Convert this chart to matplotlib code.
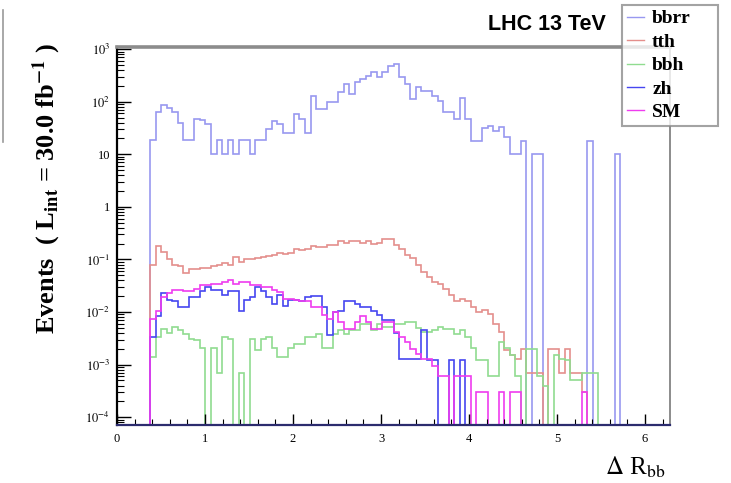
import numpy as np
import matplotlib
matplotlib.use("Agg")
import matplotlib.pyplot as plt
from matplotlib.lines import Line2D
from matplotlib.ticker import (FixedLocator, FuncFormatter, LogLocator,
                               MultipleLocator, NullFormatter)

plt.rcParams["mathtext.fontset"] = "stix"
plt.rcParams["font.family"] = ["Liberation Serif", "DejaVu Serif"]

# Histogram binning: 100 bins of Delta R_bb over [0, 2*pi]; the lists below
# hold the bin contents starting at FIRST_BIN (all earlier bins are empty).
N_BINS = 100
X_MAX = 2 * np.pi
FIRST_BIN = 6

bbrr = [19, 63, 85, 75, 63, 40, 19, 19, 47, 45, 38,
        10, 19, 10, 19, 10, 19, 19, 10, 19, 19,
        30, 43, 37, 26, 26, 58, 47, 26,
        130, 72, 72, 100, 97, 150, 218, 140, 234, 270, 315, 365, 290, 365, 470, 525,
        290, 218, 112, 190, 160, 160, 130, 104, 63, 63, 47, 120, 47,
        18, 18, 32, 35, 28, 33, 21, 10, 10, 18, 0, 10, 10,
        0, 0, 0, 0, 0, 0, 0, 0, 18, 0, 0, 0, 0, 10]

tth = [0.08, 0.18, 0.14, 0.10, 0.08, 0.075, 0.055, 0.065, 0.067, 0.068,
       0.07, 0.075, 0.079, 0.085, 0.08,
       0.11, 0.09, 0.10, 0.10, 0.105, 0.11, 0.115, 0.12, 0.13, 0.125,
       0.13, 0.16, 0.15, 0.16, 0.18,
       0.175, 0.17, 0.19, 0.19, 0.22, 0.21, 0.22, 0.22, 0.21, 0.22,
       0.20, 0.21, 0.25, 0.25,
       0.19, 0.155, 0.122, 0.105, 0.079, 0.058, 0.047, 0.037, 0.034, 0.027,
       0.021, 0.016, 0.018, 0.016, 0.0126, 0.010, 0.011, 0.009, 0.006,
       0.0042, 0.0019, 0.0015, 0.0013, 0.002, 0.0007, 0.0007, 0.0007, 0,
       0.002, 0.002, 0.0007, 0.002, 0.0007, 0.0007, 0.0003, 0]

bbh = [0.0014, 0.0034, 0.0047, 0.004, 0.0052, 0.0045, 0.0038, 0.0031, 0.003, 0.0021,
       0, 0.0021, 0.0007, 0.0034, 0.0031, 0, 0.0007, 0, 0.0031, 0.0019,
       0.0031, 0.0034, 0.0021, 0.0014, 0.0014, 0.0021, 0.0025, 0.0025, 0.0034, 0.0034,
       0.0038, 0.0021, 0.0021, 0.0038, 0.0045, 0.0038, 0.0045, 0.0045, 0.006, 0.006,
       0.0045, 0.006, 0.0052, 0.0052, 0.006, 0.006, 0.0066, 0.0066, 0.005, 0.0042,
       0.0042, 0.0045, 0.0052, 0.0047, 0.0047, 0.0038, 0.0045, 0.0034, 0.0021, 0.0012,
       0.0012, 0.0006, 0.0006, 0.0027, 0.0021, 0.0015, 0.0006, 0, 0.002, 0.002,
       0.0006, 0.0004, 0, 0.0015, 0.0013, 0.0012, 0.0005, 0.0005, 0.0007, 0.0007, 0.0007]

zh = [0.0034, 0.0085, 0.0226, 0.0169, 0.016, 0.0126, 0.0126, 0.019, 0.019, 0.025,
      0.0305, 0.0265, 0.0265, 0.0209, 0.025, 0.025, 0.0106, 0.0169, 0.0195, 0.0305,
      0.025, 0.019, 0.0142, 0.021, 0.0133, 0.0169, 0.0169, 0.016, 0.019, 0.02,
      0.02, 0.0125, 0.0036, 0.01, 0.0106, 0.016, 0.016, 0.0142, 0.0125, 0.0125,
      0.0106, 0.0086, 0.007, 0.007, 0.004, 0.0013, 0.0013, 0.0013, 0.0013, 0.0045,
      0.0012, 0.0012, 0, 0, 0.0012, 0, 0.0012]

sm = [0.0074, 0.0106, 0.0195, 0.023, 0.026, 0.026, 0.025, 0.025, 0.028, 0.0324,
      0.0324, 0.0347, 0.0347, 0.0373, 0.040, 0.0347, 0.037, 0.037, 0.0324, 0.0324,
      0.030, 0.030, 0.026, 0.024, 0.0178, 0.0178, 0.0169, 0.016, 0.016, 0.0126,
      0.0126, 0.0086, 0.0074, 0.010, 0.0066, 0.0047, 0.0047, 0.0066, 0.0084, 0.0066,
      0.0047, 0.0047, 0.0066, 0.0066, 0.0042, 0.0034, 0.0027, 0.002, 0.0016, 0.0013,
      0.0013, 0.00094, 0.0006, 0.0006, 0, 0.0006, 0.0006, 0.0006, 0, 0.0003,
      0.0003, 0, 0, 0.0003, 0, 0.0003, 0.0003, 0, 0, 0,
      0, 0, 0, 0, 0, 0, 0, 0, 0.0003]

labels = ["bbrr", "tth", "bbh", "zh", "SM"]
colors = ["#9898f0", "#e48f8c", "#90dc90", "#4646f0", "#ef3cef"]
series = [bbrr, tth, bbh, zh, sm]

Y_MIN, Y_MAX = 7.1e-5, 1.1e3
edges = np.linspace(0.0, X_MAX, N_BINS + 1)


def contents(vals):
    h = np.zeros(N_BINS)
    h[FIRST_BIN:FIRST_BIN + len(vals)] = vals
    # empty bins sit on the lower edge of the log axis
    return np.where(h > 0, h, Y_MIN)


fig = plt.figure(figsize=(7.31, 4.83), dpi=100)
ax = fig.add_axes([117 / 731, 1 - 425 / 483, (670 - 117) / 731, (425 - 47) / 483])
ax.set_yscale("log")

handles = []
for name, vals, col in zip(labels, series, colors):
    ax.stairs(contents(vals), edges, baseline=Y_MIN, color=col, lw=1.2)
    handles.append(Line2D([], [], color=col, lw=1.0))

ax.set_xlim(0, X_MAX)
ax.set_ylim(Y_MIN, Y_MAX)

# frame
ax.spines["left"].set_color("black")
ax.spines["left"].set_linewidth(1.6)
ax.spines["bottom"].set_color("#2c2c6e")
ax.spines["bottom"].set_linewidth(1.6)
ax.spines["top"].set_color("#8c8c8c")
ax.spines["top"].set_linewidth(2.6)
ax.spines["right"].set_color("#8c8c8c")
ax.spines["right"].set_linewidth(1.4)

# y axis: decades with ROOT-like labels
decades = [1e-4, 1e-3, 1e-2, 1e-1, 1, 10, 1e2, 1e3]


def ylab(v, pos):
    e = int(round(np.log10(v)))
    if e == 0:
        return "1"
    if e == 1:
        return "10"
    return r"$10^{%d}$" % e


ax.yaxis.set_major_locator(FixedLocator(decades))
ax.yaxis.set_major_formatter(FuncFormatter(ylab))
ax.yaxis.set_minor_locator(LogLocator(base=10, subs=np.arange(2, 10)))
ax.yaxis.set_minor_formatter(NullFormatter())
ax.tick_params(axis="y", which="major", direction="in", length=10, width=1.0,
               labelsize=9, pad=5)
ax.tick_params(axis="y", which="minor", direction="in", length=5, width=0.8)

ax.xaxis.set_major_locator(MultipleLocator(1))
ax.xaxis.set_minor_locator(MultipleLocator(0.2))
ax.tick_params(axis="x", which="major", direction="in", length=8, width=1.0,
               labelsize=9, pad=6)
ax.tick_params(axis="x", which="minor", direction="in", length=4, width=0.8)

# axis titles
fig.text(47 / 731, 1 - 189 / 483,
         r"Events  ( L$_{\mathbf{int}}$ = 30.0 fb$^{\mathbf{-1}}$ )",
         rotation=90, ha="center", va="center", fontsize=19, fontweight="bold")
fig.text(665 / 731, 1 - 467 / 483, r"$\Delta$ R$_{\mathrm{bb}}$",
         ha="right", va="center", fontsize=18)

fig.text(606 / 731, 1 - 24 / 483, "LHC 13 TeV", ha="right", va="center",
         fontsize=15.5, fontweight="bold", family="Liberation Sans")

leg = fig.legend(handles, labels, loc="upper left",
                 bbox_to_anchor=(622 / 731, 1 - 138 / 483, 96 / 731, 133 / 483),
                 bbox_transform=fig.transFigure, mode="expand",
                 frameon=True, fancybox=False, edgecolor="#8c8c8c",
                 prop={"size": 14, "weight": "bold"},
                 handlelength=0.9, handletextpad=0.4, labelspacing=0.3,
                 borderpad=0.25, borderaxespad=0)
leg.get_frame().set_linewidth(1.5)

# edge of the neighbouring pad
fig.add_artist(Line2D([3 / 731, 3 / 731], [1 - 10 / 483, 1 - 142 / 483],
                      color="#9a9a9a", lw=1.2))

fig.savefig("out.png", dpi=100)
